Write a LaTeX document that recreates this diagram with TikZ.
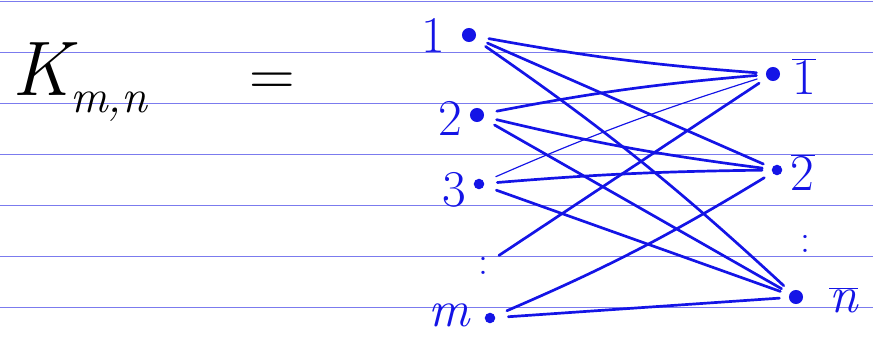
\documentclass[tikz,border=0pt]{standalone}
\usetikzlibrary{positioning}
\definecolor{inkblue}{HTML}{1414E6}
\definecolor{ruleblue}{HTML}{7B7BEE}
\newcommand{\barlab}[1]{$\overline{\hbox{#1}}$}
\tikzset{
    every node/.style={font=\fontsize{44}{44}\selectfont},
    vtx/.style={circle,fill=inkblue,inner sep=0pt,minimum size=12pt},
    vlab/.style={text=inkblue,inner sep=0pt},
    link/.style={draw=inkblue,line width=2.3pt,line cap=round,shorten <=11pt,shorten >=8pt},
    thinlink/.style={link,line width=1pt},
    ruled/.style={draw=ruleblue,line width=0.8pt}
}
\begin{document}
\begin{tikzpicture}[x=0.03cm,y=-0.03cm]
    \useasboundingbox (0,0) rectangle (873,338);
    % ruled paper
    \foreach \y in {1,52,103,154,205,256,307}
        \draw[ruled] (0,\y) -- (873,\y);
    % title
    \node[inner sep=0pt,anchor=base west,font=\fontsize{66}{66}\selectfont\itshape] (kmn) at (12,96)
        {K\raisebox{-14pt}{\fontsize{40}{40}\selectfont m,n}};
    \node[inner sep=0pt,font=\fontsize{54}{54}\selectfont] (eq) at (272,84) {=};
    % left vertices
    \node[vtx] (a1) at (469,35) {};
    \node[vtx] (a2) at (477,115) {};
    \node[vtx,minimum size=9pt] (a3) at (479,184) {};
    \node[vlab,font=\fontsize{34}{34}\selectfont] (adots) at (483,266) {:};
    \node[vtx,minimum size=9pt] (am) at (490,318) {};
    \node[vlab,left=14pt of a1] (l1) {1};
    \node[vlab,left=6pt of a2,yshift=-3pt] (l2) {2};
    \node[vlab,left=6pt of a3,yshift=-5pt] (l3) {3};
    \node[vlab,left=12pt of am,yshift=2pt] (lm) {\itshape m};
    % right vertices
    \node[vtx] (b1) at (773,74) {};
    \node[vtx,minimum size=9pt] (b2) at (777,170) {};
    \node[vlab,font=\fontsize{34}{34}\selectfont] (bdots) at (805,244) {:};
    \node[vtx] (bn) at (796,297) {};
    \node[vlab,right=10pt of b1,yshift=-2pt] (r1) {\barlab{1}};
    \node[vlab,right=7pt of b2,yshift=-2pt] (r2) {\barlab{2}};
    \node[vlab,right=22pt of bn,yshift=-3pt] (rn) {\barlab{\itshape n}};
    % edges
    \draw[link] (a1) to[bend right=3] (b1);
    \draw[link] (a1) -- (b2);
    \draw[link] (a1) to[bend left=4] (bn);
    \draw[link] (a2) to[bend left=3] (b1);
    \draw[link] (a2) to[bend right=3] (b2);
    \draw[link] (a2) -- (bn);
    \draw[thinlink] (a3) to[bend left=3] (b1);
    \draw[link] (a3) to[bend left=2] (b2);
    \draw[link] (a3) -- (bn);
    \draw[link] (adots) -- (b1);
    \draw[link] (am) to[bend right=4] (b2);
    \draw[link] (am) -- (bn);
\end{tikzpicture}
\end{document}
